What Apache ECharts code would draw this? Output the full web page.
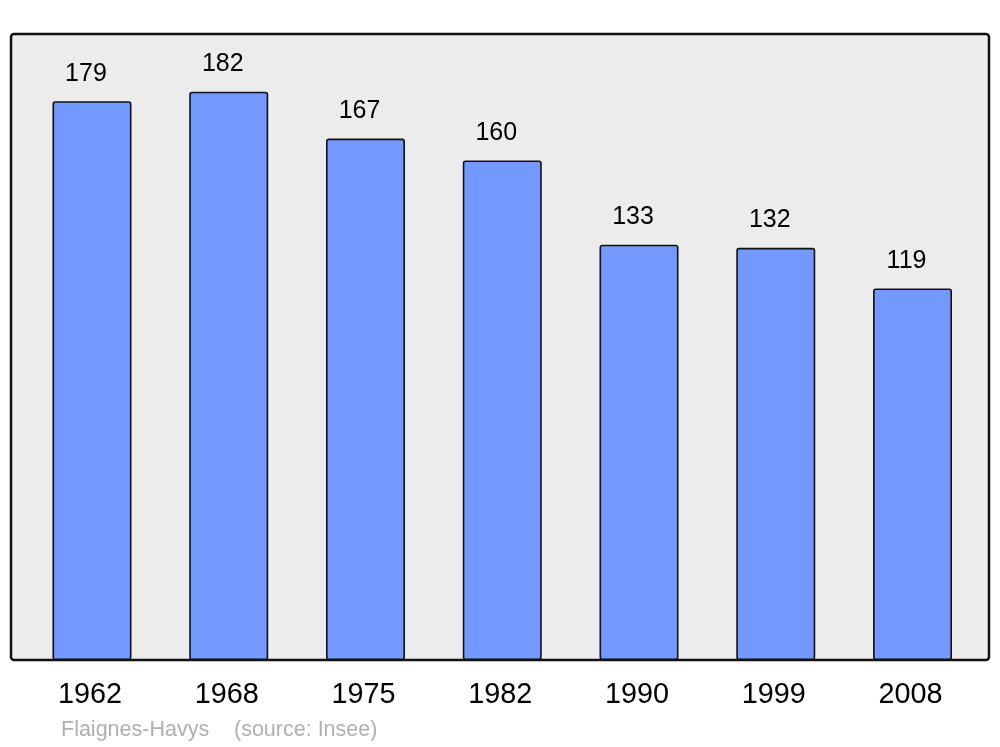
<!DOCTYPE html>
<html>
<head>
<meta charset="utf-8">
<script src="https://cdn.jsdelivr.net/npm/echarts@6/dist/echarts.min.js"></script>
<style>html,body{margin:0;padding:0;background:#fff}#c{width:1000px;height:747px}</style>
</head>
<body>
<div id="c"></div>
<script>
var years = ['1962','1968','1975','1982','1990','1999','2008'];
var population = [179,182,167,160,133,132,119];
var footerPlace = 'Flaignes-Havys';
var footerSource = '(source: Insee)';

var chart = echarts.init(document.getElementById('c'), null, {renderer:'canvas'});
chart.setOption({
  animation:false,
  backgroundColor:'#ffffff',
  graphic:[
    {type:'rect', z:-10, shape:{x:11, y:34, width:978, height:626, r:3},
     style:{fill:'#ececec', stroke:'#111', lineWidth:2.5}},
    {type:'text', left:61, top:719, style:{text:footerPlace, fill:'#b0b0b0', font:'21.5px "Liberation Sans", Arial, sans-serif'}},
    {type:'text', left:234, top:719, style:{text:footerSource, fill:'#b0b0b0', font:'21.5px "Liberation Sans", Arial, sans-serif'}}
  ],
  grid:{left:23.6, right:19.1, top:34, bottom:87, containLabel:false},
  xAxis:{type:'category', data:years, boundaryGap:true,
    axisLine:{show:false}, axisTick:{show:false},
    axisLabel:{fontFamily:'"Liberation Sans", Arial, sans-serif', fontSize:28.8, color:'#000', margin:21, lineHeight:28, padding:[0,4,0,0]}},
  yAxis:{type:'value', min:0, max:200.5, show:false, splitLine:{show:false}},
  series:[{type:'bar', data:population, barWidth:79,
    itemStyle:{color:'#7399ff', borderColor:'#111', borderWidth:1.6, borderRadius:2},
    label:{show:true, position:'top', distance:15, offset:[-6,0], fontFamily:'"Liberation Sans", Arial, sans-serif', fontSize:25, color:'#000'}
  }]
});
</script>
</body>
</html>
